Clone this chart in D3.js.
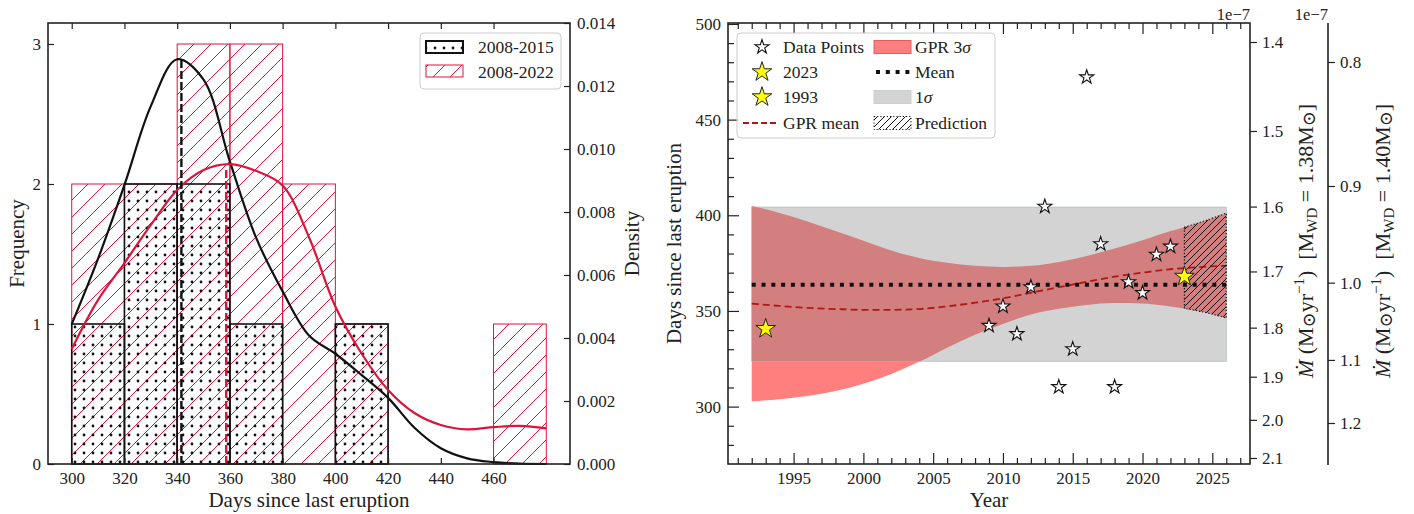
<!DOCTYPE html>
<html lang="en">
<head>
<meta charset="UTF-8">
<title>Recurrence histogram and GPR</title>
<script src="https://d3js.org/d3.v7.min.js"></script>
<style>
  body { margin: 0; background: #fff; }
  text { font-family: "Liberation Serif", "DejaVu Serif", serif; fill: #222; }
</style>
</head>
<body>
<div id="chart"></div>
<script>
// ---- left panel data ----
const binEdges = [300, 320, 340, 360, 380, 400, 420, 440, 460, 480];
const counts0815 = [1, 2, 2, 1, 0, 1, 0, 0, 0];
const counts0822 = [2, 2, 3, 3, 2, 1, 0, 0, 1];
const kdeDays = [300, 310, 320, 330, 340, 350, 360, 370, 380, 390, 400, 410, 420, 430, 440, 450, 460, 470, 480];
const kde0815 = [0.00444, 0.00652, 0.00886, 0.01136, 0.01285, 0.01220, 0.00960, 0.00717, 0.00548, 0.00408,
                 0.00350, 0.00282, 0.00210, 0.00115, 0.00050, 0.00018, 0.00006, 0.00001, 0];
const kde0822 = [0.00365, 0.00521, 0.00638, 0.00759, 0.00870, 0.00933, 0.00952, 0.00930, 0.00884, 0.00720,
                 0.00500, 0.00350, 0.00235, 0.00162, 0.00124, 0.00110, 0.00117, 0.00121, 0.00113];
const medianLines = [ { day: 341.6, top: 0.01291, color: "#111" }, { day: 358.6, top: 0.0094, color: "crimson" } ];
const dayTicks = [300, 320, 340, 360, 380, 400, 420, 440, 460];
const freqTicks = [0, 1, 2, 3];
const densTicks = [0, 0.002, 0.004, 0.006, 0.008, 0.010, 0.012, 0.014];

// ---- right panel data ----
const ptYears = [2009, 2010, 2011, 2012, 2013, 2014, 2015, 2016, 2017, 2018, 2019, 2020, 2021, 2022];
const ptDays  = [342.3, 352.4, 338.0, 362.5, 404.6, 310.3, 330.1, 472.2, 385.0, 310.3, 365.1, 359.4, 379.5, 383.7];
const highlight = [ { year: 2023, days: 368.0 }, { year: 1993, days: 340.7 } ];
const gprYears = [1992, 1994, 1996, 1998, 2000, 2002, 2004, 2006, 2008, 2010, 2012, 2014, 2016, 2018, 2020, 2022, 2023, 2024, 2025, 2026];
const gprUpper = [405.0, 401.2, 396.8, 391.8, 386.7, 381.6, 377.7, 375.2, 373.6, 373.0, 373.6, 375.6, 378.7, 382.6, 386.9, 391.8, 393.8, 396.0, 398.5, 401.1];
const gprLower = [302.8, 303.9, 305.6, 308.2, 312.0, 317.1, 323.4, 330.8, 337.6, 343.2, 348.1, 351.1, 353.1, 354.1, 353.9, 352.3, 351.3, 350.0, 348.3, 346.3];
const gprMean  = [353.8, 352.6, 351.6, 351.0, 350.6, 350.6, 351.0, 352.4, 354.3, 356.6, 359.5, 362.4, 365.2, 367.9, 370.0, 371.8, 372.4, 372.9, 373.3, 373.6];
const meanDays = 363.7, sigmaLow = 323.7, sigmaHigh = 404.3;
const bandYears = [1992, 2026];
const predictionStart = 2023;
const yearMajor = [1995, 2000, 2005, 2010, 2015, 2020, 2025];
const daysMajor = [300, 350, 400, 450, 500];
const mdotTicksA = [1.4, 1.5, 1.6, 1.7, 1.8, 1.9, 2.0, 2.1];
const mdotTicksB = [0.8, 0.9, 1.0, 1.1, 1.2];

const FONT = '"Liberation Serif", "DejaVu Serif", serif';
const width = 1414, height = 514;
const svg = d3.select("#chart").append("svg").attr("width", width).attr("height", height);

const defs = svg.append("defs");
const hatchRed = defs.append("pattern").attr("id", "hatchRed").attr("patternUnits", "userSpaceOnUse")
    .attr("width", 17).attr("height", 17);
hatchRed.append("path").attr("d", "M-2,2 l4,-4 M0,17 l17,-17 M15,19 l4,-4")
    .attr("stroke", "crimson").attr("stroke-width", 1);
const dots = defs.append("pattern").attr("id", "dots").attr("patternUnits", "userSpaceOnUse")
    .attr("width", 9).attr("height", 9);
dots.append("circle").attr("cx", 3).attr("cy", 3).attr("r", 1.4).attr("fill", "#111");
const hatchK = defs.append("pattern").attr("id", "hatchK").attr("patternUnits", "userSpaceOnUse")
    .attr("width", 7).attr("height", 7);
hatchK.append("path").attr("d", "M-1,1 l2,-2 M0,7 l7,-7 M6,8 l2,-2")
    .attr("stroke", "#111").attr("stroke-width", 1);

function styleAxis(g, size) {
    g.attr("font-size", size || 17).attr("font-family", FONT);
    g.select(".domain").remove();
    g.selectAll("line").attr("stroke", "#222").attr("stroke-width", 1.2);
    g.selectAll("text").attr("fill", "#222");
    return g;
}

// ================= LEFT PANEL =================
const L = { left: 48, right: 570, top: 23, bottom: 464 };
const xL = d3.scaleLinear().domain([291, 489]).range([L.left, L.right]);
const yF = d3.scaleLinear().domain([0, 3.15]).range([L.bottom, L.top]);
const yD = d3.scaleLinear().domain([0, 0.014]).range([L.bottom, L.top]);

const bins = binEdges.slice(0, -1).map((b, i) => ({ x0: b, x1: binEdges[i + 1], c15: counts0815[i], c22: counts0822[i] }));

svg.append("g").selectAll("rect").data(bins.filter(d => d.c22 > 0)).join("rect")
    .attr("x", d => xL(d.x0)).attr("width", d => xL(d.x1) - xL(d.x0))
    .attr("y", d => yF(d.c22)).attr("height", d => yF(0) - yF(d.c22))
    .attr("fill", "url(#hatchRed)").attr("stroke", "crimson").attr("stroke-width", 1);

svg.append("g").selectAll("rect").data(bins.filter(d => d.c15 > 0)).join("rect")
    .attr("x", d => xL(d.x0)).attr("width", d => xL(d.x1) - xL(d.x0))
    .attr("y", d => yF(d.c15)).attr("height", d => yF(0) - yF(d.c15))
    .attr("fill", "url(#dots)").attr("stroke", "#111").attr("stroke-width", 1.6);

const kdeLine = d3.line().x(d => xL(d[0])).y(d => yD(d[1])).curve(d3.curveCatmullRom);
svg.append("path").attr("d", kdeLine(kdeDays.map((d, i) => [d, kde0815[i]])))
    .attr("fill", "none").attr("stroke", "#111").attr("stroke-width", 2.2);
svg.append("path").attr("d", kdeLine(kdeDays.map((d, i) => [d, kde0822[i]])))
    .attr("fill", "none").attr("stroke", "crimson").attr("stroke-width", 2.2);

svg.append("g").selectAll("line").data(medianLines).join("line")
    .attr("x1", d => xL(d.day)).attr("x2", d => xL(d.day))
    .attr("y1", yD(0)).attr("y2", d => yD(d.top))
    .attr("stroke", d => d.color).attr("stroke-width", 2.4).attr("stroke-dasharray", "8,3");

styleAxis(svg.append("g").attr("transform", `translate(0,${L.bottom})`)
    .call(d3.axisBottom(xL).tickValues(dayTicks).tickSize(-6).tickPadding(8)));
styleAxis(svg.append("g").attr("transform", `translate(0,${L.top})`)
    .call(d3.axisTop(xL).tickValues(dayTicks).tickSize(-6).tickFormat("")));
styleAxis(svg.append("g").attr("transform", `translate(${L.left},0)`)
    .call(d3.axisLeft(yF).tickValues(freqTicks).tickFormat(d3.format("d")).tickSize(-6).tickPadding(7)));
styleAxis(svg.append("g").attr("transform", `translate(${L.right},0)`)
    .call(d3.axisRight(yD).tickValues(densTicks).tickFormat(d3.format(".3f")).tickSize(-6).tickPadding(7)));

svg.append("rect").attr("x", L.left).attr("y", L.top).attr("width", L.right - L.left).attr("height", L.bottom - L.top)
    .attr("fill", "none").attr("stroke", "#222").attr("stroke-width", 1.6);

svg.append("text").attr("x", (L.left + L.right) / 2).attr("y", 507).attr("text-anchor", "middle")
    .attr("font-size", 21).text("Days since last eruption");
svg.append("text").attr("transform", `translate(24,${(L.top + L.bottom) / 2}) rotate(-90)`)
    .attr("text-anchor", "middle").attr("font-size", 21).text("Frequency");
svg.append("text").attr("transform", `translate(639,${(L.top + L.bottom) / 2}) rotate(-90)`)
    .attr("text-anchor", "middle").attr("font-size", 21).text("Density");

// left legend
const legL = svg.append("g");
legL.append("rect").attr("x", 420).attr("y", 33).attr("width", 141).attr("height", 56).attr("rx", 4)
    .attr("fill", "#fff").attr("fill-opacity", 0.8).attr("stroke", "#ccc");
legL.append("rect").attr("x", 426).attr("y", 41).attr("width", 37).attr("height", 12)
    .attr("fill", "url(#dots)").attr("stroke", "#111").attr("stroke-width", 2);
legL.append("rect").attr("x", 426).attr("y", 65).attr("width", 37).attr("height", 12)
    .attr("fill", "url(#hatchRed)").attr("stroke", "crimson").attr("stroke-width", 1);
legL.append("text").attr("x", 478).attr("y", 47).attr("dy", "0.35em").attr("font-size", 17.5).text("2008-2015");
legL.append("text").attr("x", 478).attr("y", 72).attr("dy", "0.35em").attr("font-size", 17.5).text("2008-2022");

// ================= RIGHT PANEL =================
const R = { left: 728, right: 1250, top: 23, bottom: 464 };
const xR = d3.scaleLinear().domain([1990.3, 2027.7]).range([R.left, R.right]);
const yR = d3.scaleLinear().domain([270, 500.5]).range([R.bottom, R.top]);

const gpr = gprYears.map((y, i) => ({ year: y, up: gprUpper[i], lo: gprLower[i], mean: gprMean[i] }));
const band = d3.area().x(d => xR(d.year)).y0(d => yR(d.lo)).y1(d => yR(d.up)).curve(d3.curveMonotoneX);

svg.append("path").attr("d", band(gpr)).attr("fill", "red").attr("fill-opacity", 0.5);
svg.append("rect").attr("x", xR(bandYears[0])).attr("width", xR(bandYears[1]) - xR(bandYears[0]))
    .attr("y", yR(sigmaHigh)).attr("height", yR(sigmaLow) - yR(sigmaHigh))
    .attr("fill", "#808080").attr("fill-opacity", 0.35).attr("stroke", "#9fb4b4").attr("stroke-width", 0.6);

svg.append("path")
    .attr("d", d3.line().x(d => xR(d.year)).y(d => yR(d.mean)).curve(d3.curveMonotoneX)(gpr))
    .attr("fill", "none").attr("stroke", "#b01818").attr("stroke-width", 1.8).attr("stroke-dasharray", "7,4");

svg.append("line").attr("x1", xR(bandYears[0])).attr("x2", xR(bandYears[1]))
    .attr("y1", yR(meanDays)).attr("y2", yR(meanDays))
    .attr("stroke", "#111").attr("stroke-width", 4).attr("stroke-dasharray", "4,5.8");

const pred = gpr.filter(d => d.year >= predictionStart);
svg.append("path").attr("d", band(pred) + "Z").attr("fill", "url(#hatchK)")
    .attr("stroke", "#111").attr("stroke-width", 1.2).attr("stroke-dasharray", "1.2,2");

const star = d3.symbol().type(d3.symbolStar);
svg.append("g").selectAll("path").data(ptYears.map((y, i) => ({ year: y, days: ptDays[i] }))).join("path")
    .attr("transform", d => `translate(${xR(d.year)},${yR(d.days)})`)
    .attr("d", star.size(62)()).attr("fill", "#fff").attr("stroke", "#111").attr("stroke-width", 1.1);
svg.append("g").selectAll("path").data(highlight).join("path")
    .attr("transform", d => `translate(${xR(d.year)},${yR(d.days)})`)
    .attr("d", star.size(120)()).attr("fill", "#ffff00").attr("stroke", "#222").attr("stroke-width", 1);

// axes
const yearMinor = d3.range(1991, 2028).filter(y => y % 5 !== 0);
const daysMinor = d3.range(280, 500, 10).filter(d => d % 50 !== 0);
styleAxis(svg.append("g").attr("transform", `translate(0,${R.bottom})`)
    .call(d3.axisBottom(xR).tickValues(yearMajor).tickFormat(d3.format("d")).tickSize(-11).tickPadding(8)));
styleAxis(svg.append("g").attr("transform", `translate(0,${R.bottom})`)
    .call(d3.axisBottom(xR).tickValues(yearMinor).tickSize(-6).tickFormat("")));
styleAxis(svg.append("g").attr("transform", `translate(0,${R.top})`)
    .call(d3.axisTop(xR).tickValues(yearMajor).tickSize(-11).tickFormat("")));
styleAxis(svg.append("g").attr("transform", `translate(0,${R.top})`)
    .call(d3.axisTop(xR).tickValues(yearMinor).tickSize(-6).tickFormat("")));
styleAxis(svg.append("g").attr("transform", `translate(${R.left},0)`)
    .call(d3.axisLeft(yR).tickValues(daysMajor).tickSize(-11).tickPadding(7)));
styleAxis(svg.append("g").attr("transform", `translate(${R.left},0)`)
    .call(d3.axisLeft(yR).tickValues(daysMinor).tickSize(-6).tickFormat("")));

// accretion-rate axes (power-law in recurrence time)
const mdotA = d3.scalePow().exponent(-1 / 0.6935).domain([1.4, 2.1]).range([42, 458]);
const mdotB = d3.scalePow().exponent(-1 / 0.8129).domain([0.8, 1.2]).range([62, 423]);
styleAxis(svg.append("g").attr("transform", `translate(${R.right},0)`)
    .call(d3.axisRight(mdotA).tickValues(mdotTicksA).tickFormat(d3.format(".1f")).tickSize(7).tickPadding(5)));
const axB = 1328;
styleAxis(svg.append("g").attr("transform", `translate(${axB},0)`)
    .call(d3.axisRight(mdotB).tickValues(mdotTicksB).tickFormat(d3.format(".1f")).tickSize(7).tickPadding(5)));
svg.append("line").attr("x1", axB).attr("x2", axB).attr("y1", R.top).attr("y2", 465)
    .attr("stroke", "#222").attr("stroke-width", 1.6);

svg.append("rect").attr("x", R.left).attr("y", R.top).attr("width", R.right - R.left).attr("height", R.bottom - R.top)
    .attr("fill", "none").attr("stroke", "#222").attr("stroke-width", 1.6);

svg.append("text").attr("x", R.right).attr("y", 20).attr("text-anchor", "end").attr("font-size", 16.5).text("1e\u22127");
svg.append("text").attr("x", axB).attr("y", 20).attr("text-anchor", "end").attr("font-size", 16.5).text("1e\u22127");

svg.append("text").attr("x", (R.left + R.right) / 2).attr("y", 507).attr("text-anchor", "middle")
    .attr("font-size", 21).text("Year");
svg.append("text").attr("transform", `translate(681,${(R.top + R.bottom) / 2}) rotate(-90)`)
    .attr("text-anchor", "middle").attr("font-size", 21).text("Days since last eruption");

function mdotLabel(x, mass) {
    const t = svg.append("text").attr("transform", `translate(${x},241) rotate(-90)`)
        .attr("text-anchor", "middle").attr("font-size", 22).style("white-space", "pre");
    t.append("tspan").attr("font-style", "italic").text("\u1E40");
    t.append("tspan").text(" (M");
    t.append("tspan").attr("font-size", 18).attr("dy", 2).text("\u2299");
    t.append("tspan").attr("dy", -2).text("yr");
    t.append("tspan").attr("font-size", 15).attr("dy", -9).text("\u22121");
    t.append("tspan").attr("dy", 9).text(")  [M");
    t.append("tspan").attr("font-size", 15).attr("dy", 4).text("WD");
    t.append("tspan").attr("dy", -4).text(" = " + mass + "M");
    t.append("tspan").attr("font-size", 18).attr("dy", 2).text("\u2299");
    t.append("tspan").attr("dy", -2).text("]");
}
mdotLabel(1313, "1.38");
mdotLabel(1390, "1.40");

// right legend
const legR = svg.append("g");
legR.append("rect").attr("x", 737).attr("y", 33).attr("width", 258).attr("height", 105).attr("rx", 4)
    .attr("fill", "#fff").attr("fill-opacity", 0.8).attr("stroke", "#ccc");
const rowY = [47, 72, 97, 123];
legR.append("path").attr("transform", `translate(762,${rowY[0]})`).attr("d", star.size(62)())
    .attr("fill", "#fff").attr("stroke", "#111").attr("stroke-width", 1.1);
legR.append("path").attr("transform", `translate(762,${rowY[1]})`).attr("d", star.size(120)())
    .attr("fill", "#ffff00").attr("stroke", "#222");
legR.append("path").attr("transform", `translate(762,${rowY[2]})`).attr("d", star.size(120)())
    .attr("fill", "#ffff00").attr("stroke", "#222");
legR.append("line").attr("x1", 743).attr("x2", 779).attr("y1", rowY[3]).attr("y2", rowY[3])
    .attr("stroke", "#b01818").attr("stroke-width", 1.8).attr("stroke-dasharray", "6,3");
["Data Points", "2023", "1993", "GPR mean"].forEach((s, i) =>
    legR.append("text").attr("x", 783).attr("y", rowY[i]).attr("dy", "0.35em").attr("font-size", 17.5).text(s));

legR.append("rect").attr("x", 874).attr("y", rowY[0] - 6.5).attr("width", 37).attr("height", 13)
    .attr("fill", "red").attr("fill-opacity", 0.5).attr("stroke", "#e06060");
legR.append("line").attr("x1", 876).attr("x2", 912).attr("y1", rowY[1]).attr("y2", rowY[1])
    .attr("stroke", "#111").attr("stroke-width", 4).attr("stroke-dasharray", "4,5.8");
legR.append("rect").attr("x", 874).attr("y", rowY[2] - 6.5).attr("width", 37).attr("height", 13)
    .attr("fill", "#808080").attr("fill-opacity", 0.35).attr("stroke", "#c8d0d0");
legR.append("rect").attr("x", 874).attr("y", rowY[3] - 6.5).attr("width", 37).attr("height", 13)
    .attr("fill", "url(#hatchK)").attr("stroke", "#111").attr("stroke-dasharray", "1.2,2");
const gprTxt = legR.append("text").attr("x", 915).attr("y", rowY[0]).attr("dy", "0.35em").attr("font-size", 17.5);
gprTxt.append("tspan").text("GPR 3");
gprTxt.append("tspan").attr("font-style", "italic").text("\u03C3");
legR.append("text").attr("x", 915).attr("y", rowY[1]).attr("dy", "0.35em").attr("font-size", 17.5).text("Mean");
const sigTxt = legR.append("text").attr("x", 915).attr("y", rowY[2]).attr("dy", "0.35em").attr("font-size", 17.5);
sigTxt.append("tspan").text("1");
sigTxt.append("tspan").attr("font-style", "italic").text("\u03C3");
legR.append("text").attr("x", 915).attr("y", rowY[3]).attr("dy", "0.35em").attr("font-size", 17.5).text("Prediction");
</script>
</body>
</html>
